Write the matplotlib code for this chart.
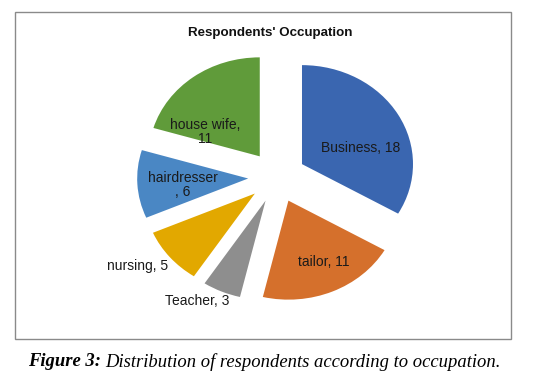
import matplotlib.pyplot as plt
from matplotlib.patches import Rectangle

plt.rcParams['font.family'] = ['Liberation Sans', 'DejaVu Sans']

# data
labels = ['Business', 'tailor', 'Teacher', 'nursing', 'hairdresser', 'house wife']
values = [18, 11, 3, 5, 6, 11]
colors = ['#3a66b0', '#d5702c', '#8e8e8e', '#e2a800', '#4a87c4', '#609b3a']
label_text = ['Business, 18', 'tailor, 11', 'Teacher, 3', 'nursing, 5',
              'hairdresser\n, 6', 'house wife,\n11']
label_pos = [(0.75, 0.29), (0.42, -0.86), (-0.72, -1.25), (-1.26, -0.90),
             (-0.85, -0.08), (-0.65, 0.45)]

W, H = 553, 378
fig = plt.figure(figsize=(W / 100, H / 100), dpi=100)

# chart frame
fig.add_artist(Rectangle((15 / W, 1 - 339 / H), 496 / W, 327 / H,
                         transform=fig.transFigure, fill=False,
                         edgecolor='#8a8a8a', linewidth=1))

# pie axes: center (277,177) px, radius 111 px wide, 99 px tall
cx, cy, rx, ry = 277, 177, 111, 99
ax = fig.add_axes([(cx - 1.5 * rx) / W, (H - cy - 1.5 * ry) / H,
                   3 * rx / W, 3 * ry / H])
ax.pie(values, colors=colors, startangle=90, counterclock=False,
       explode=[0.26] * len(values), radius=1,
       wedgeprops=dict(linewidth=0))
ax.set_aspect('auto')
ax.set_xlim(-1.5, 1.5)
ax.set_ylim(-1.5, 1.5)
ax.axis('off')

for txt, (x, y) in zip(label_text, label_pos):
    ax.text(x, y, txt, ha='center', va='center', fontsize=10,
            color='#1a1a1a', linespacing=1.0)

fig.text(270 / W, 1 - 33 / H, "Respondents' Occupation", ha='center',
         va='center', fontsize=9.6, fontweight='bold', color='#111111')

# caption
cap1 = fig.text(28 / W, 1 - 362 / H, "Figure 3:", ha='left', va='center',
                fontsize=13.4, fontstyle='italic', fontweight='bold',
                family='Liberation Serif')
fig.canvas.draw()
bb = cap1.get_window_extent()
fig.text((bb.x1 + 4) / W, 1 - 362 / H,
         "Distribution of respondents according to occupation.",
         ha='left', va='center', fontsize=13.4, fontstyle='italic',
         family='Liberation Serif')

fig.savefig('out.png', dpi=100)
